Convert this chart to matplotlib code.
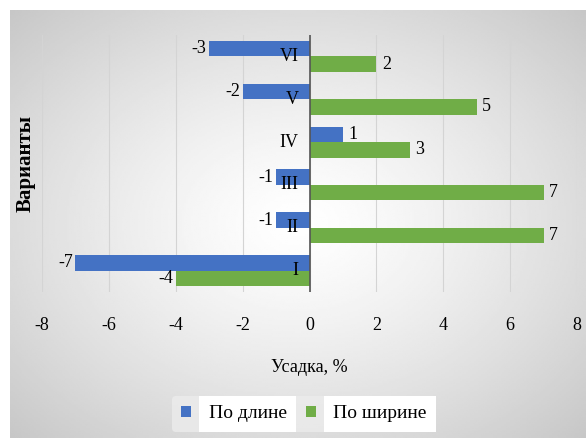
import numpy as np
import matplotlib
matplotlib.use("Agg")
import matplotlib.pyplot as plt

variants = ["I", "II", "III", "IV", "V", "VI"]
po_dline = [-7, -1, -1, 1, -2, -3]
po_shirine = [-4, 7, 7, 3, 5, 2]
x_ticks = [-8, -6, -4, -2, 0, 2, 4, 6, 8]

plt.rcParams['font.family'] = ['Liberation Serif', 'DejaVu Serif']

W, H = 586, 438
fig = plt.figure(figsize=(W / 100, H / 100), dpi=100)
fig.patch.set_facecolor('white')

# radial grey gradient behind the chart
bg = fig.add_axes([10 / W, 0, 1 - 10 / W, 1 - 10 / H])
gx, gy = np.meshgrid(np.linspace(-1, 1, 300), np.linspace(-1, 1, 230))
r = np.sqrt(gx ** 2 + gy ** 2) / np.sqrt(2)
shade = 1 - 0.22 * np.clip(r, 0, 1) ** 1.3
bg.imshow(shade, cmap='gray', vmin=0, vmax=1, aspect='auto', extent=[0, 1, 0, 1])
bg.axis('off')

ax = fig.add_axes([42 / W, 1 - 292 / H, 535 / W, 257 / H])
ax.patch.set_alpha(0)

y = np.arange(len(variants))
h = 0.36
blue = '#4472C4'
green = '#70AD47'
b1 = ax.barh(y + h / 2, po_dline, height=h, color=blue, label='По длине', zorder=3)
b2 = ax.barh(y - h / 2, po_shirine, height=h, color=green, label='По ширине', zorder=3)

ax.set_xlim(-8, 8)
ax.set_ylim(-0.5, 5.5)
ax.set_xticks(x_ticks)
ax.set_xticklabels([str(t) for t in x_ticks])
ax.set_yticks([])
ax.tick_params(axis='x', length=0, pad=18, labelsize=13)
ax.grid(axis='x', color='#d4d4d4', linewidth=0.8, zorder=0)
for s in ax.spines.values():
    s.set_visible(False)
ax.axvline(0, color='#555555', linewidth=1.2, zorder=4)

# value labels at the bar ends
for bars in (b1, b2):
    for rect, v in zip(bars, bars.datavalues):
        yc = rect.get_y() + rect.get_height() / 2
        if v < 0:
            ax.annotate(str(int(v)), (v, yc), xytext=(-2, 0), textcoords='offset points',
                        ha='right', va='center', fontsize=13)
        else:
            ax.annotate(str(int(v)), (v, yc), xytext=(4, 0), textcoords='offset points',
                        ha='left', va='center', fontsize=13)

# category names next to the zero line
for yi, name in zip(y, variants):
    ax.annotate(name, (0, yi), xytext=(-8, 0), textcoords='offset points',
                ha='right', va='center', fontsize=13, zorder=5)

ax.set_xlabel('Усадка, %', fontsize=13)
ax.xaxis.set_label_coords(0.5, -67 / 257)
ax.set_ylabel('Варианты', fontsize=15, fontweight='bold')
ax.yaxis.set_label_coords(-6 / 535, 0.5)

leg = fig.legend(handles=[b1, b2], loc='center', bbox_to_anchor=(304 / W, 1 - 414 / H),
                 ncol=2, frameon=True, fontsize=14, handlelength=0.5, handleheight=0.5,
                 columnspacing=1.0, handletextpad=0.9, borderpad=0.5)
leg.get_frame().set_facecolor('#ececec')
leg.get_frame().set_edgecolor('none')
leg.get_frame().set_alpha(0.8)
for t in leg.get_texts():
    t.set_bbox(dict(facecolor='white', edgecolor='none', pad=7))

fig.savefig('out.png', dpi=100)
